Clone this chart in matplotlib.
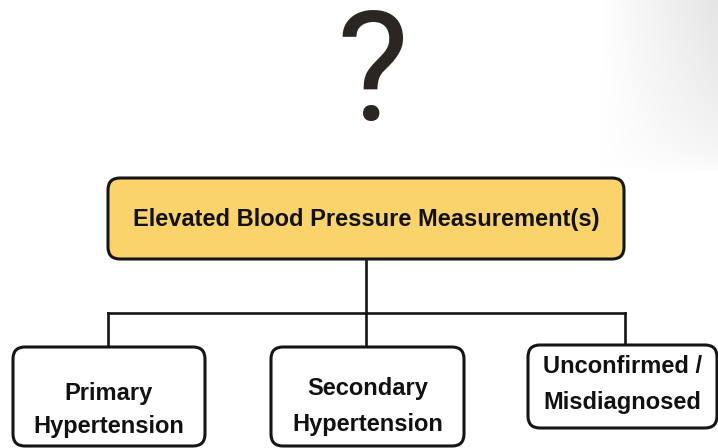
import numpy as np
import matplotlib.pyplot as plt
from matplotlib.patches import FancyBboxPatch

# diagram content
top_label = "Elevated Blood Pressure Measurement(s)"
child_labels = [["Primary", "Hypertension"],
                ["Secondary", "Hypertension"],
                ["Unconfirmed /", "Misdiagnosed"]]

W, H = 718, 448
FONT = ['Liberation Sans', 'DejaVu Sans']

fig = plt.figure(figsize=(7.18, 4.48), dpi=100)
ax = fig.add_axes([0, 0, 1, 1])
ax.set_xlim(0, W)
ax.set_ylim(H, 0)
ax.axis('off')

# faint grey shading in the top right corner
gx, gy = np.meshgrid(np.linspace(0, W, 360), np.linspace(0, H, 224))
fx = np.clip((gx - 600) / 118, 0, 1)
fy = np.clip(1 - gy / 170, 0, 1) ** 0.5
shade = np.ones(gx.shape + (4,))
shade[..., :3] = 0.9
shade[..., 3] = fx * fy
ax.imshow(shade, extent=[0, W, H, 0], zorder=0, aspect='auto')

# big question mark
ax.text(372, 120, "?", fontsize=110, family=['Roboto', 'DejaVu Sans'],
        weight='normal', color='#2b2622', ha='center', va='baseline')

def box(x0, y0, x1, y1, fc):
    p = FancyBboxPatch((x0, y0), x1 - x0, y1 - y0,
                       boxstyle="round,pad=0,rounding_size=12",
                       fc=fc, ec='#151515', lw=2.2, zorder=3)
    ax.add_patch(p)

# top box
box(108, 178, 624, 259, '#FAD46A')
ax.text(366, 226, top_label, fontsize=17, family=FONT, weight='bold',
        ha='center', va='baseline', color='#111111', zorder=4)

# connectors
lc = '#151515'
ax.plot([366, 366], [259, 313], color=lc, lw=1.9, zorder=2)
ax.plot([108, 625], [313, 313], color=lc, lw=1.9, zorder=2)

child_boxes = [(13, 347, 205, 446), (271, 347, 464, 446), (528, 345, 717, 428)]
child_x = [108, 366, 625]
baselines = [(400, 433), (395, 431), (373, 409)]

for lines, (x0, y0, x1, y1), cx, bl in zip(child_labels, child_boxes, child_x, baselines):
    ax.plot([cx, cx], [313, y0], color=lc, lw=1.9, zorder=2)
    box(x0, y0, x1, y1, 'white')
    mid = (x0 + x1) / 2
    for txt, yb in zip(lines, bl):
        ax.text(mid, yb, txt, fontsize=17, family=FONT, weight='bold',
                ha='center', va='baseline', color='#111111', zorder=4)

fig.savefig('out.png', dpi=100)
